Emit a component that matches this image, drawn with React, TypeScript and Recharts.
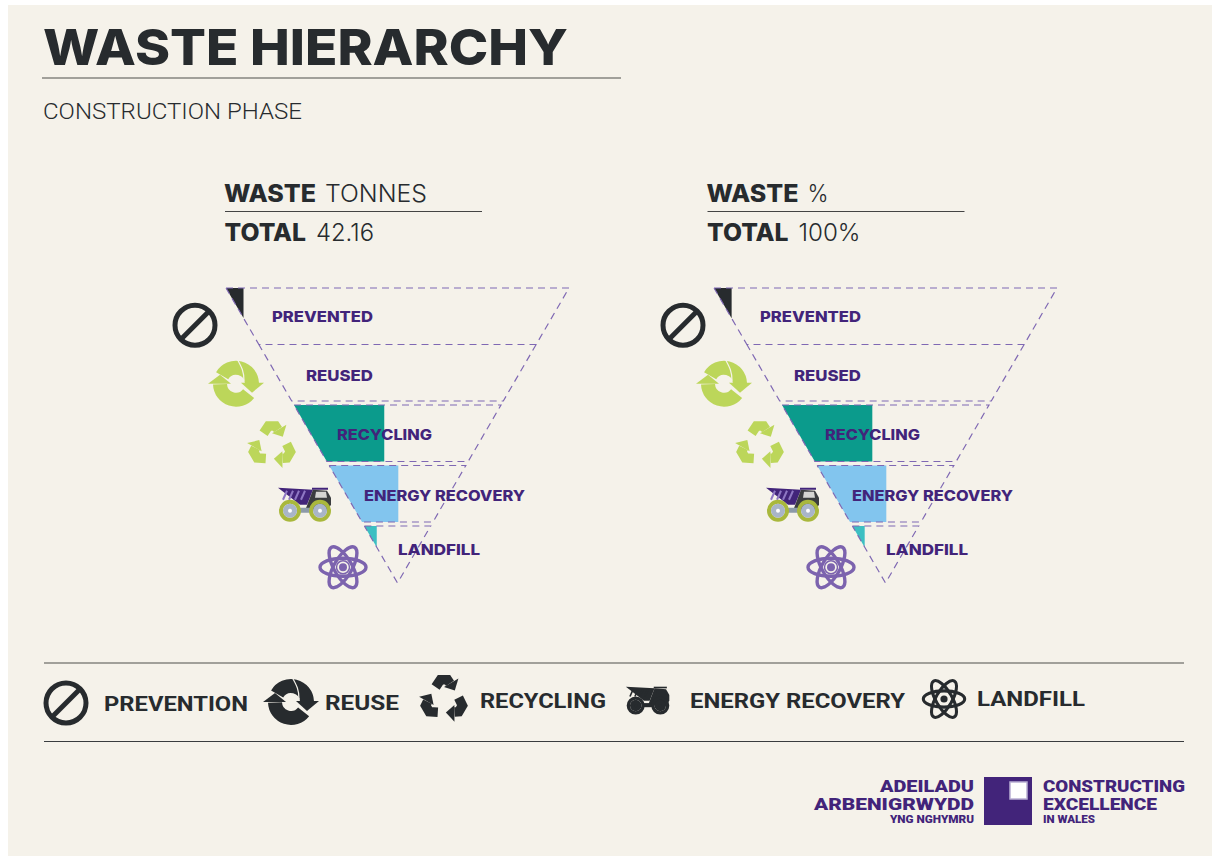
import { BarChart, Bar, XAxis, YAxis, LabelList } from "recharts";

const levels = ["PREVENTED", "REUSED", "RECYCLING", "ENERGY RECOVERY", "LANDFILL"];
const tonnes = [3.9, 0, 20.1, 15.4, 2.76];
const percent = [9.3, 0, 47.7, 36.5, 6.5];
const tonnesAxisMax = 76.4;
const percentAxisMax = 181.2;

const levelColors = ["#272b2e", "#272b2e", "#0b9b8c", "#82c5ee", "#3cbfc2"];

const legendNames = ["PREVENTION", "REUSE", "RECYCLING", "ENERGY RECOVERY", "LANDFILL"];

const DARK = "#272b2e";
const PURPLE = "#42247a";
const DASH = "#7f68b3";
const LIME = "#bcd65a";
const ATOM = "#7c63ae";
const PAPER = "#f5f2ea";

const CHART_W = 440;
const CHART_H = 330;
const PLOT_LEFT = 66; // funnel top-left corner inside the chart
const FUNNEL_W = 343;
const FUNNEL_TOP = 18;
const SLOPE = FUNNEL_W / 2 / 295;
const BAR_H = 56.5;

// the first band sits a bit lower in the original artwork
const bandNudge = [4, 0, 0, 0, 0];
const labelNudge = [4, 3, 1, 2, -5];
const labelX = [112, 146, 177, 204, 238];
const labelW = [101, 67, 95, 161, 82];
const iconX = [35, 76, 112, 145, 183];
const iconNudge = [13, 11, 12, 9, 13];

function arc(r: number, a0: number, a1: number) {
  const p = (a: number) => [r * Math.cos((a * Math.PI) / 180), r * Math.sin((a * Math.PI) / 180)];
  const [x0, y0] = p(a0);
  const [x1, y1] = p(a1);
  const large = Math.abs(a1 - a0) > 180 ? 1 : 0;
  const sweep = a1 > a0 ? 1 : 0;
  return `M${x0} ${y0}A${r} ${r} 0 ${large} ${sweep} ${x1} ${y1}`;
}

function BanIcon({ color }: { color: string }) {
  return (
    <g fill="none" stroke={color} strokeWidth={5}>
      <circle r={20} />
      <line x1={-14} y1={14} x2={14} y2={-14} />
    </g>
  );
}

function ReuseIcon({ color }: { color: string }) {
  return (
    <g>
      <g fill="none" stroke={color} strokeWidth={14}>
        <path d={arc(16, -150, -2)} />
        <path d={arc(16, 38, 178)} />
      </g>
      <polygon points="5,-1 28,-1 16,9" fill={color} />
      <polygon points="-28,0 -5,0 -16,-9" fill={color} />
      <path d="M1,-25 C6,-16 8,-12 8,-3" fill="none" stroke={PAPER} strokeWidth={1.2} />
    </g>
  );
}

function RecycleIcon({ color }: { color: string }) {
  return (
    <g transform="scale(1.2)">
      {[0, 120, 240].map((rot) => (
        <g key={rot} transform={`rotate(${rot})`}>
          <polyline points="-7,-10 -3,-16 3,-16 5,-13" fill="none" stroke={color} strokeWidth={8} />
          <polygon points="12,-17 0,-10 9,-7" fill={color} />
        </g>
      ))}
    </g>
  );
}

function TruckIcon({ mono }: { mono?: string }) {
  const c = (col: string) => mono ?? col;
  return (
    <g>
      <polygon points="-27,-15 8,-13 2,2 -5,2" fill={c(PURPLE)} />
      {[-18, -12, -6, 0].map((sx) => (
        <line key={sx} x1={sx} y1={-12} x2={sx - 4} y2={-3} stroke={c("#8f78c4")} strokeWidth={2} />
      ))}
      <rect x={7} y={-15} width={16} height={2} fill={c(PURPLE)} />
      <polygon points="3,0 8,-13 22,-12 26,-5 26,2 22,8 0,8" fill={c("#3b3d3f")} />
      <polygon points="11,-11 21,-11 22,-5 10,-5" fill={c("#d5d5d2")} />
      <rect x={-5} y={5} width={11} height={5} fill={c("#8c9aa8")} />
      {[-15, 15].map((cx) => (
        <g key={cx} transform={`translate(${cx} 8)`}>
          <circle r={9} fill="none" stroke={c("#a9b83c")} strokeWidth={4} />
          <circle r={7} fill={c("#a9b5c8")} />
          <circle r={2} fill={c("#ffffff")} />
        </g>
      ))}
    </g>
  );
}

function AtomIcon({ color, ring }: { color: string; ring?: boolean }) {
  return (
    <g>
      {[0, 60, 120].map((rot) => (
        <ellipse key={rot} rx={23} ry={9} transform={`rotate(${rot})`} fill="none" stroke={color} strokeWidth={3.4} />
      ))}
      {ring && <circle r={6.5} fill={PAPER} stroke={color} strokeWidth={1.5} />}
      <circle r={4} fill={color} />
    </g>
  );
}

function chartIcon(i: number) {
  if (i === 0) return <BanIcon color={DARK} />;
  if (i === 1) return <ReuseIcon color={LIME} />;
  if (i === 2) return <RecycleIcon color={LIME} />;
  if (i === 3) return <TruckIcon />;
  return <AtomIcon color={ATOM} ring />;
}

function IconTick(props: any) {
  const i = props.index;
  return <g transform={`translate(${iconX[i]} ${props.y + iconNudge[i]})`}>{chartIcon(i)}</g>;
}

function LevelShape(props: any) {
  const { x, y, width, index } = props;
  const top = y + bandNudge[index];
  const inset = SLOPE * (top - FUNNEL_TOP);
  const left = x + inset;
  const bottom = top + BAR_H;
  const right = x + FUNNEL_W - inset;
  const drop = width / SLOPE;
  const fillPts =
    drop < BAR_H
      ? `${left},${top} ${left + width},${top} ${left + width},${top + drop}`
      : `${left},${top} ${left + width},${top} ${left + width},${bottom} ${left + SLOPE * BAR_H},${bottom}`;
  const sides = `L${right - SLOPE * BAR_H} ${bottom}L${left + SLOPE * BAR_H} ${bottom}L${left} ${top}`;
  // REUSED shares its top edge with the bottom of PREVENTED, so that edge is drawn once
  const outline = index === 1 ? `M${right} ${top}${sides}` : `M${left} ${top}L${right} ${top}${sides}`;
  return (
    <g>
      {width > 0 && <polygon points={fillPts} fill={levelColors[index]} />}
      <path d={outline} fill="none" stroke={DASH} strokeWidth={1.2} strokeDasharray="7 5" />
    </g>
  );
}

function LevelLabel(props: any) {
  const { y, height, index, value } = props;
  return (
    <text
      x={labelX[index]}
      y={y + height / 2 + labelNudge[index]}
      dy="0.36em"
      fill={PURPLE}
      fontFamily="Inter"
      fontWeight={800}
      fontSize={15}
      textLength={labelW[index]}
      lengthAdjust="spacingAndGlyphs"
    >
      {value}
    </text>
  );
}

function Funnel({ values, axisMax, left }: { values: number[]; axisMax: number; left: number }) {
  const data = levels.map((level, i) => ({ level, value: values[i] }));
  return (
    <div style={{ position: "absolute", left, top: 270 }}>
      <BarChart
        width={CHART_W}
        height={CHART_H}
        data={data}
        layout="vertical"
        barSize={BAR_H}
        margin={{ top: 12, right: CHART_W - PLOT_LEFT - FUNNEL_W, bottom: 15.5, left: 0 }}
      >
        <XAxis type="number" domain={[0, axisMax]} hide />
        <YAxis
          type="category"
          dataKey="level"
          width={PLOT_LEFT}
          axisLine={false}
          tickLine={false}
          interval={0}
          tick={IconTick}
        />
        <Bar dataKey="value" isAnimationActive={false} shape={LevelShape}>
          <LabelList dataKey="level" content={LevelLabel} />
        </Bar>
      </BarChart>
    </div>
  );
}

function Txt({ x, y, w, size, weight = 400, family = "Inter", color = DARK, children }: any) {
  return (
    <text
      x={x}
      y={y}
      fontFamily={family}
      fontSize={size}
      fontWeight={weight}
      fill={color}
      textLength={w}
      lengthAdjust="spacingAndGlyphs"
    >
      {children}
    </text>
  );
}

function Header({ dx, unit, unitW, total, totalW }: any) {
  return (
    <g transform={`translate(${dx} 0)`}>
      <Txt x={224} y={202} w={92} size={24} weight={800}>WASTE</Txt>
      <Txt x={325} y={202} w={unitW} size={24} weight={300}>{unit}</Txt>
      <line x1={225} x2={482} y1={211.5} y2={211.5} stroke="#444" strokeWidth={1} />
      <Txt x={224.5} y={241} w={81.5} size={24} weight={800}>TOTAL</Txt>
      <Txt x={316} y={241} w={totalW} size={24} weight={300}>{total}</Txt>
    </g>
  );
}

function Overlay() {
  return (
    <svg width={1212} height={856} style={{ position: "absolute", left: 0, top: 0 }}>
      <Txt x={43} y={65} w={525} size={50} weight={800}>WASTE HIERARCHY</Txt>
      <line x1={42} x2={621} y1={78} y2={78} stroke="#85857f" strokeWidth={1.5} />
      <Txt x={43} y={119} w={259} size={22} weight={300} family="Roboto">CONSTRUCTION PHASE</Txt>

      <Header dx={0} unit="TONNES" unitW={102} total="42.16" totalW={58} />
      <Header dx={482.5} unit="%" unitW={21} total="100%" totalW={62} />

      <line x1={44} x2={1184} y1={663} y2={663} stroke="#85857f" strokeWidth={1.5} />
      <line x1={44} x2={1184} y1={741.5} y2={741.5} stroke="#3a3d3f" strokeWidth={1} />

      <g transform="translate(66 703)"><BanIcon color={DARK} /></g>
      <g transform="translate(291 702)"><ReuseIcon color={DARK} /></g>
      <g transform="translate(444 699)"><RecycleIcon color={DARK} /></g>
      <g transform="translate(648 699)"><g transform="scale(0.82)"><TruckIcon mono={DARK} /></g></g>
      <g transform="translate(944 699)"><g transform="scale(0.9)"><AtomIcon color={DARK} /></g></g>

      <Txt x={104} y={711} w={144} size={21} weight={700} family="Roboto">{legendNames[0]}</Txt>
      <Txt x={325} y={710} w={74} size={21} weight={700} family="Roboto">{legendNames[1]}</Txt>
      <Txt x={480} y={708} w={126} size={21} weight={700} family="Roboto">{legendNames[2]}</Txt>
      <Txt x={690} y={708} w={215} size={21} weight={700} family="Roboto">{legendNames[3]}</Txt>
      <Txt x={977} y={706} w={108} size={21} weight={700} family="Roboto">{legendNames[4]}</Txt>

      <rect x={984} y={777} width={48} height={48} fill={PURPLE} />
      <rect x={1010} y={782} width={17} height={17} fill="#fff" stroke="#b9aed3" strokeWidth={1.5} />
      <Txt x={880} y={792} w={94} size={16.5} weight={900} family="Roboto" color={PURPLE}>ADEILADU</Txt>
      <Txt x={814} y={810} w={160} size={16.5} weight={900} family="Roboto" color={PURPLE}>ARBENIGRWYDD</Txt>
      <Txt x={890} y={823} w={84} size={11} weight={900} family="Roboto" color={PURPLE}>YNG NGHYMRU</Txt>
      <Txt x={1043} y={792} w={142} size={16.5} weight={900} family="Roboto" color={PURPLE}>CONSTRUCTING</Txt>
      <Txt x={1043} y={810} w={114} size={16.5} weight={900} family="Roboto" color={PURPLE}>EXCELLENCE</Txt>
      <Txt x={1043} y={823} w={52} size={11} weight={900} family="Roboto" color={PURPLE}>IN WALES</Txt>
    </svg>
  );
}

export default function App() {
  return (
    <div style={{ position: "absolute", left: 0, top: 0, width: 1212, height: 856, background: "#fff", overflow: "hidden" }}>
      <div style={{ position: "absolute", left: 8, top: 5, right: 0, bottom: 0, background: PAPER }} />
      <Overlay />
      <Funnel values={tonnes} axisMax={tonnesAxisMax} left={160} />
      <Funnel values={percent} axisMax={percentAxisMax} left={647.5} />
    </div>
  );
}
